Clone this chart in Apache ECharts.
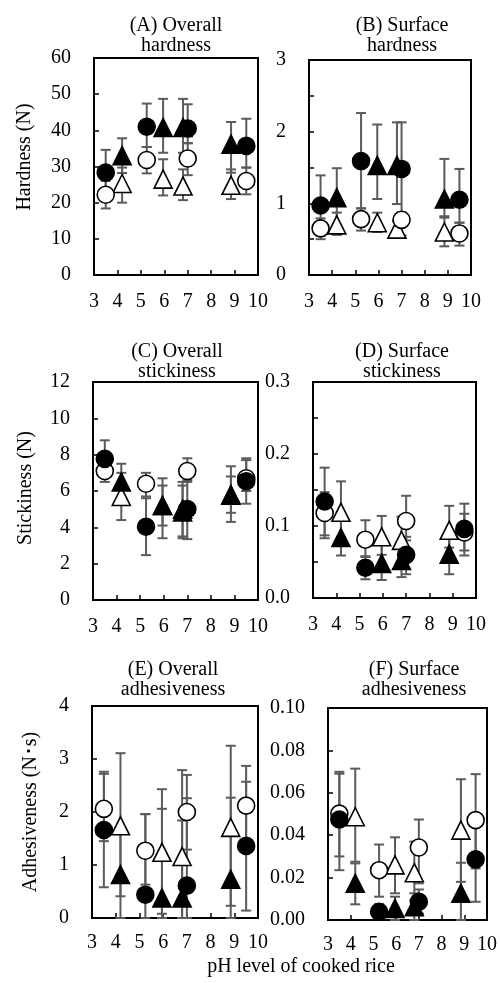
<!DOCTYPE html>
<html>
<head>
<meta charset="utf-8">
<script src="https://cdn.jsdelivr.net/npm/echarts@6/dist/echarts.min.js"></script>
<style>
  html, body { margin: 0; padding: 0; background: #fff; }
  #chart { width: 500px; height: 983px; }
</style>
</head>
<body>
<div id="chart"></div>
<script>
// pH of the samples (x positions)
const pHCircle = [3.5, 5.25, 7.0, 9.5];
const pHTriangle = [4.2, 5.95, 6.8, 8.85];

// every point is [mean, low end of error bar, high end of error bar]
// (A) overall hardness
const A_fc = [[28.3, 22.0, 34.6], [41.0, 35.4, 47.4], [40.5, 36.4, 47.2], [35.7, 29.7, 43.2]];
const A_ft = [[33.0, 28.2, 37.8], [40.8, 33.8, 48.7], [40.8, 33.8, 48.7], [36.2, 28.3, 42.3]];
const A_oc = [[22.2, 18.4, 26.0], [31.8, 28.1, 35.4], [32.2, 27.6, 36.5], [26.0, 22.3, 29.7]];
const A_ot = [[25.3, 20.0, 29.7], [26.5, 22.0, 32.0], [24.6, 20.7, 29.2], [24.8, 21.0, 29.2]];
// (B) surface hardness
const B_fc = [[0.97, 0.55, 1.39], [1.59, 0.93, 2.26], [1.48, 0.87, 2.13], [1.05, 0.73, 1.48]];
const B_ft = [[1.08, 0.67, 1.49], [1.53, 1.06, 2.10], [1.53, 0.99, 2.13], [1.06, 0.82, 1.62]];
const B_oc = [[0.65, 0.50, 0.79], [0.78, 0.62, 0.93], [0.77, 0.55, 0.87], [0.58, 0.41, 0.73]];
const B_ot = [[0.70, 0.56, 0.87], [0.73, 0.60, 0.87], [0.64, 0.53, 0.75], [0.60, 0.40, 0.80]];
// (C) overall stickiness
const C_fc = [[7.77, 6.80, 8.79], [4.03, 2.47, 5.70], [5.00, 3.35, 6.60], [6.54, 5.30, 7.70]];
const C_ft = [[6.50, 5.50, 7.50], [5.20, 3.40, 6.70], [4.85, 3.40, 6.30], [5.77, 4.30, 7.36]];
const C_oc = [[7.10, 6.50, 7.70], [6.40, 5.60, 7.00], [7.10, 6.50, 7.80], [6.70, 6.00, 7.80]];
const C_ot = [[5.70, 4.40, 7.00], [5.20, 4.10, 6.30], [5.00, 3.50, 6.50], [5.80, 4.80, 6.80]];
// (D) surface stickiness
const D_fc = [[0.134, 0.087, 0.181], [0.042, 0.026, 0.058], [0.060, 0.033, 0.085], [0.096, 0.059, 0.131]];
const D_ft = [[0.084, 0.059, 0.110], [0.048, 0.025, 0.075], [0.052, 0.029, 0.075], [0.061, 0.033, 0.085]];
const D_oc = [[0.118, 0.083, 0.147], [0.081, 0.057, 0.108], [0.107, 0.080, 0.142], [0.091, 0.066, 0.117]];
const D_ot = [[0.119, 0.085, 0.162], [0.085, 0.060, 0.114], [0.080, 0.045, 0.113], [0.094, 0.070, 0.128]];
// (E) overall adhesiveness
const E_fc = [[1.66, 0.58, 2.72], [0.44, 0.00, 1.96], [0.61, 0.00, 2.26], [1.36, 0.14, 2.57]];
const E_ft = [[0.82, 0.00, 1.65], [0.38, 0.00, 2.06], [0.38, 0.00, 1.84], [0.73, 0.00, 2.27]];
const E_oc = [[2.06, 1.45, 2.76], [1.27, 0.63, 1.96], [2.00, 1.29, 2.70], [2.12, 1.41, 2.87]];
const E_ot = [[1.74, 0.41, 3.11], [1.24, 0.08, 2.43], [1.16, 0.00, 2.79], [1.71, 0.23, 3.25]];
// (F) surface adhesiveness
const F_fc = [[0.0474, 0.0235, 0.0690], [0.0039, 0.0010, 0.0075], [0.0086, 0.0030, 0.0144], [0.0286, 0.0086, 0.0450]];
const F_ft = [[0.0173, 0.0074, 0.0267], [0.0055, 0.0000, 0.0110], [0.0063, 0.0000, 0.0126], [0.0126, 0.0000, 0.0270]];
const F_oc = [[0.0502, 0.0300, 0.0699], [0.0235, 0.0110, 0.0356], [0.0342, 0.0173, 0.0474], [0.0471, 0.0243, 0.0688]];
const F_ot = [[0.0487, 0.0275, 0.0714], [0.0260, 0.0126, 0.0390], [0.0223, 0.0094, 0.0370], [0.0424, 0.0180, 0.0664]];

const FONT = 'Liberation Serif';
const FS = 20;

const panels = [
  { title: '(A) Overall\nhardness', tx: 171, ty: 11, grid: { left: 94, top: 58, width: 164, height: 217 },
    max: 60, interval: 10, fmt: v => v, fc: A_fc, ft: A_ft, oc: A_oc, ot: A_ot },
  { title: '(B) Surface\nhardness', tx: 397, ty: 11, grid: { left: 309, top: 60, width: 162, height: 215 },
    max: 3, interval: 0.5, fmt: v => (Math.abs(v - Math.round(v)) < 1e-6 ? Math.round(v) : ''), fc: B_fc, ft: B_ft, oc: B_oc, ot: B_ot },
  { title: '(C) Overall\nstickiness', tx: 172, ty: 337, grid: { left: 93, top: 382, width: 165, height: 218 },
    max: 12, interval: 2, fmt: v => v, fc: C_fc, ft: C_ft, oc: C_oc, ot: C_ot },
  { title: '(D) Surface\nstickiness', tx: 397, ty: 337, grid: { left: 313, top: 382, width: 163, height: 216 },
    max: 0.3, interval: 0.05, fmt: v => (Math.abs(v * 10 - Math.round(v * 10)) < 1e-6 ? v.toFixed(1) : ''), fc: D_fc, ft: D_ft, oc: D_oc, ot: D_ot },
  { title: '(E) Overall\nadhesiveness', tx: 168, ty: 655, grid: { left: 92, top: 706, width: 166, height: 212 },
    max: 4, interval: 1, fmt: v => v, fc: E_fc, ft: E_ft, oc: E_oc, ot: E_ot },
  { title: '(F) Surface\nadhesiveness', tx: 409, ty: 655, grid: { left: 328, top: 708, width: 161, height: 212 },
    max: 0.1, interval: 0.02, fmt: v => v.toFixed(2), fc: F_fc, ft: F_ft, oc: F_oc, ot: F_ot }
];

function errorBar(params, api) {
  const x = api.value(0);
  const hi = api.coord([x, api.value(2)]);
  const lo = api.coord([x, api.value(1)]);
  const cap = 5;
  const st = { stroke: '#5b5b5b', lineWidth: 2 };
  return {
    type: 'group',
    children: [
      { type: 'line', shape: { x1: hi[0], y1: hi[1], x2: lo[0], y2: lo[1] }, style: st },
      { type: 'line', shape: { x1: hi[0] - cap, y1: hi[1], x2: hi[0] + cap, y2: hi[1] }, style: st },
      { type: 'line', shape: { x1: lo[0] - cap, y1: lo[1], x2: lo[0] + cap, y2: lo[1] }, style: st }
    ]
  };
}

const grids = [], xAxes = [], yAxes = [], titles = [], series = [];
const labelStyle = { fontFamily: FONT, fontSize: FS, color: '#000' };

panels.forEach((p, i) => {
  grids.push(Object.assign({ show: true, borderColor: '#000', borderWidth: 2 }, p.grid));
  titles.push({
    text: p.title, left: p.tx, top: p.ty, textAlign: 'center',
    textStyle: { fontFamily: FONT, fontSize: FS, fontWeight: 'normal', color: '#000', lineHeight: 20 }
  });
  xAxes.push({
    type: 'value', gridIndex: i, min: 3, max: 10, interval: 1,
    axisLine: { show: false }, splitLine: { show: false },
    axisTick: { inside: true, length: 5, lineStyle: { color: '#000', width: 1.5 } },
    axisLabel: Object.assign({ margin: i >= 4 ? 15 : 17 }, labelStyle)
  });
  yAxes.push({
    type: 'value', gridIndex: i, min: 0, max: p.max, interval: p.interval,
    axisLine: { show: false }, splitLine: { show: false },
    axisTick: { inside: true, length: 5, lineStyle: { color: '#000', width: 1.5 } },
    axisLabel: Object.assign({ margin: 23, formatter: p.fmt }, labelStyle)
  });

  const sets = [
    { d: p.ot, xs: pHTriangle, sym: 'triangle', size: 18, fill: '#fff' },
    { d: p.oc, xs: pHCircle, sym: 'circle', size: 17, fill: '#fff' },
    { d: p.ft, xs: pHTriangle, sym: 'triangle', size: 18, fill: '#000' },
    { d: p.fc, xs: pHCircle, sym: 'circle', size: 17, fill: '#000' }
  ];
  sets.forEach(s => {
    series.push({
      type: 'custom', xAxisIndex: i, yAxisIndex: i, renderItem: errorBar, clip: false, silent: true,
      encode: { x: 0, y: [1, 2] },
      data: s.d.map((v, k) => [s.xs[k], v[1], v[2]])
    });
  });
  sets.forEach(s => {
    series.push({
      type: 'scatter', xAxisIndex: i, yAxisIndex: i, symbol: s.sym, symbolSize: s.size, silent: true,
      itemStyle: { color: s.fill, borderColor: '#000', borderWidth: 1.6, opacity: 1 },
      data: s.d.map((v, k) => [s.xs[k], v[0]])
    });
  });
});

const chart = echarts.init(document.getElementById('chart'), null, { renderer: 'canvas' });
chart.setOption({
  animation: false,
  backgroundColor: '#fff',
  title: titles,
  grid: grids,
  xAxis: xAxes,
  yAxis: yAxes,
  series: series,
  graphic: [
    { type: 'text', x: 25, y: 157, rotation: Math.PI / 2, style: { text: 'Hardness (N)', fontFamily: FONT, fontSize: FS, fill: '#000', align: 'center', verticalAlign: 'middle' } },
    { type: 'text', x: 26, y: 488, rotation: Math.PI / 2, style: { text: 'Stickiness (N)', fontFamily: FONT, fontSize: FS, fill: '#000', align: 'center', verticalAlign: 'middle' } },
    { type: 'text', x: 31, y: 812, rotation: Math.PI / 2, style: { text: 'Adhesiveness (N･s)', fontFamily: FONT, fontSize: FS, fill: '#000', align: 'center', verticalAlign: 'middle' } },
    { type: 'text', x: 301, y: 967, style: { text: 'pH level of cooked rice', fontFamily: FONT, fontSize: FS, fill: '#000', align: 'center', verticalAlign: 'middle' } }
  ]
});
</script>
</body>
</html>
